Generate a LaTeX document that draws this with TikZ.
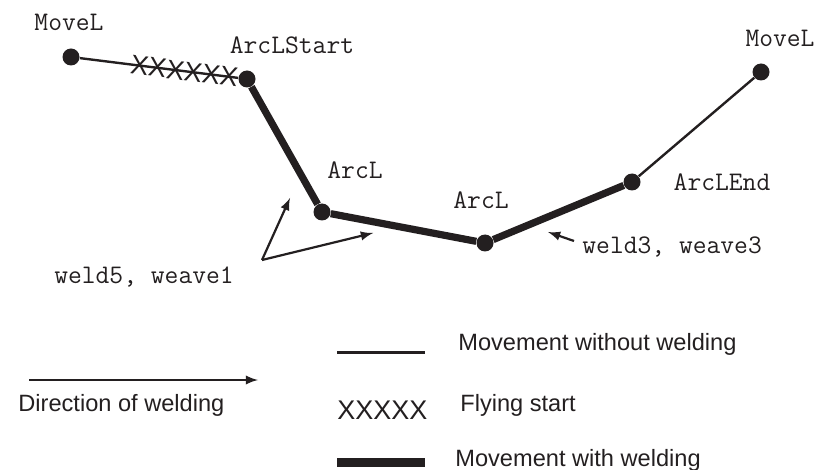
\documentclass[tikz,border=0pt]{standalone}
\usepackage{fontspec}
\setmainfont{Liberation Sans}
\usepackage{xcolor}
\usepackage{tikz}
\usetikzlibrary{arrows,positioning}
\definecolor{ink}{HTML}{231F20}

\begin{document}
\begin{tikzpicture}[x=0.5pt, y=-0.5pt, color=ink,
    pt/.style={circle, fill=ink, inner sep=0pt, minimum size=8.5pt},
    cmd/.style={font=\ttfamily\fontsize{13.4}{15}\selectfont, inner sep=0pt, text depth=0pt},
    leg/.style={font=\fontsize{11.8}{13}\selectfont, inner sep=0pt, text depth=0pt, anchor=west},
    moveline/.style={draw, line width=1.2pt},
    weldline/.style={draw, line width=3.6pt, line join=round},
    pointer/.style={draw, -latex, line width=1.1pt}]
    \useasboundingbox (0,0) rectangle (824,470);
    % robot path points
    \node [pt] (m1) at (71,57) {};
    \node [pt] (s) at (247,79) {};
    \node [pt] (a1) at (322,212) {};
    \node [pt] (a2) at (485,243) {};
    \node [pt] (e) at (632,182) {};
    \node [pt] (m2) at (761,72) {};
    \node [cmd] (lm1) at (69,22) {MoveL};
    \node [cmd] (ls) at (292,45) {ArcLStart};
    \node [cmd] (la1) at (355,170) {ArcL};
    \node [cmd] (la2) at (481,200) {ArcL};
    \node [cmd] (le) at (722,182) {ArcLEnd};
    \node [cmd] (lm2) at (780,38) {MoveL};
    \node [cmd] (w5) at (144,275) {weld5, weave1};
    \node [cmd, anchor=west] (w3) at (582,245) {weld3, weave3};
    \path [moveline] (m1) -- (s);
    \path [weldline] (s) -- (a1) -- (a2) -- (e);
    \path [moveline] (e) -- (m2);
    \path (m1) -- (s) node [pos=0.66, sloped, font=\fontsize{13.5}{14}\selectfont, inner sep=0pt] (fs) {XXXXXX};
    % pointers to the weld segments
    \coordinate (w5t) at (262,260);
    \coordinate (w5a) at (290,198);
    \coordinate (w5b) at (373,233);
    \coordinate (w3t) at (574,241);
    \coordinate (w3a) at (548,232);
    \path [pointer] (w5t) -- (w5a);
    \path [pointer] (w5t) -- (w5b);
    \path [pointer] (w3t) -- (w3a);
    % legend
    \coordinate (d1) at (29,380);
    \coordinate (d2) at (258,380);
    \path [pointer] (d1) -- (d2);
    \node [leg] (ld) at (18,403) {Direction of welding};
    \coordinate (n1) at (337,352);
    \coordinate (n2) at (425,352);
    \path [draw, line width=1.5pt] (n1) -- (n2);
    \node [leg] (ln) at (458,342) {Movement without welding};
    \node [font=\fontsize{13.5}{14}\selectfont, inner sep=0pt, anchor=west] (lx) at (337,410) {XXXXX};
    \node [leg] (lf) at (460,403) {Flying start};
    \coordinate (y1) at (337,462);
    \coordinate (y2) at (425,462);
    \path [draw, line width=4.5pt] (y1) -- (y2);
    \node [leg] (ly) at (455,458) {Movement with welding};
\end{tikzpicture}
\end{document}
